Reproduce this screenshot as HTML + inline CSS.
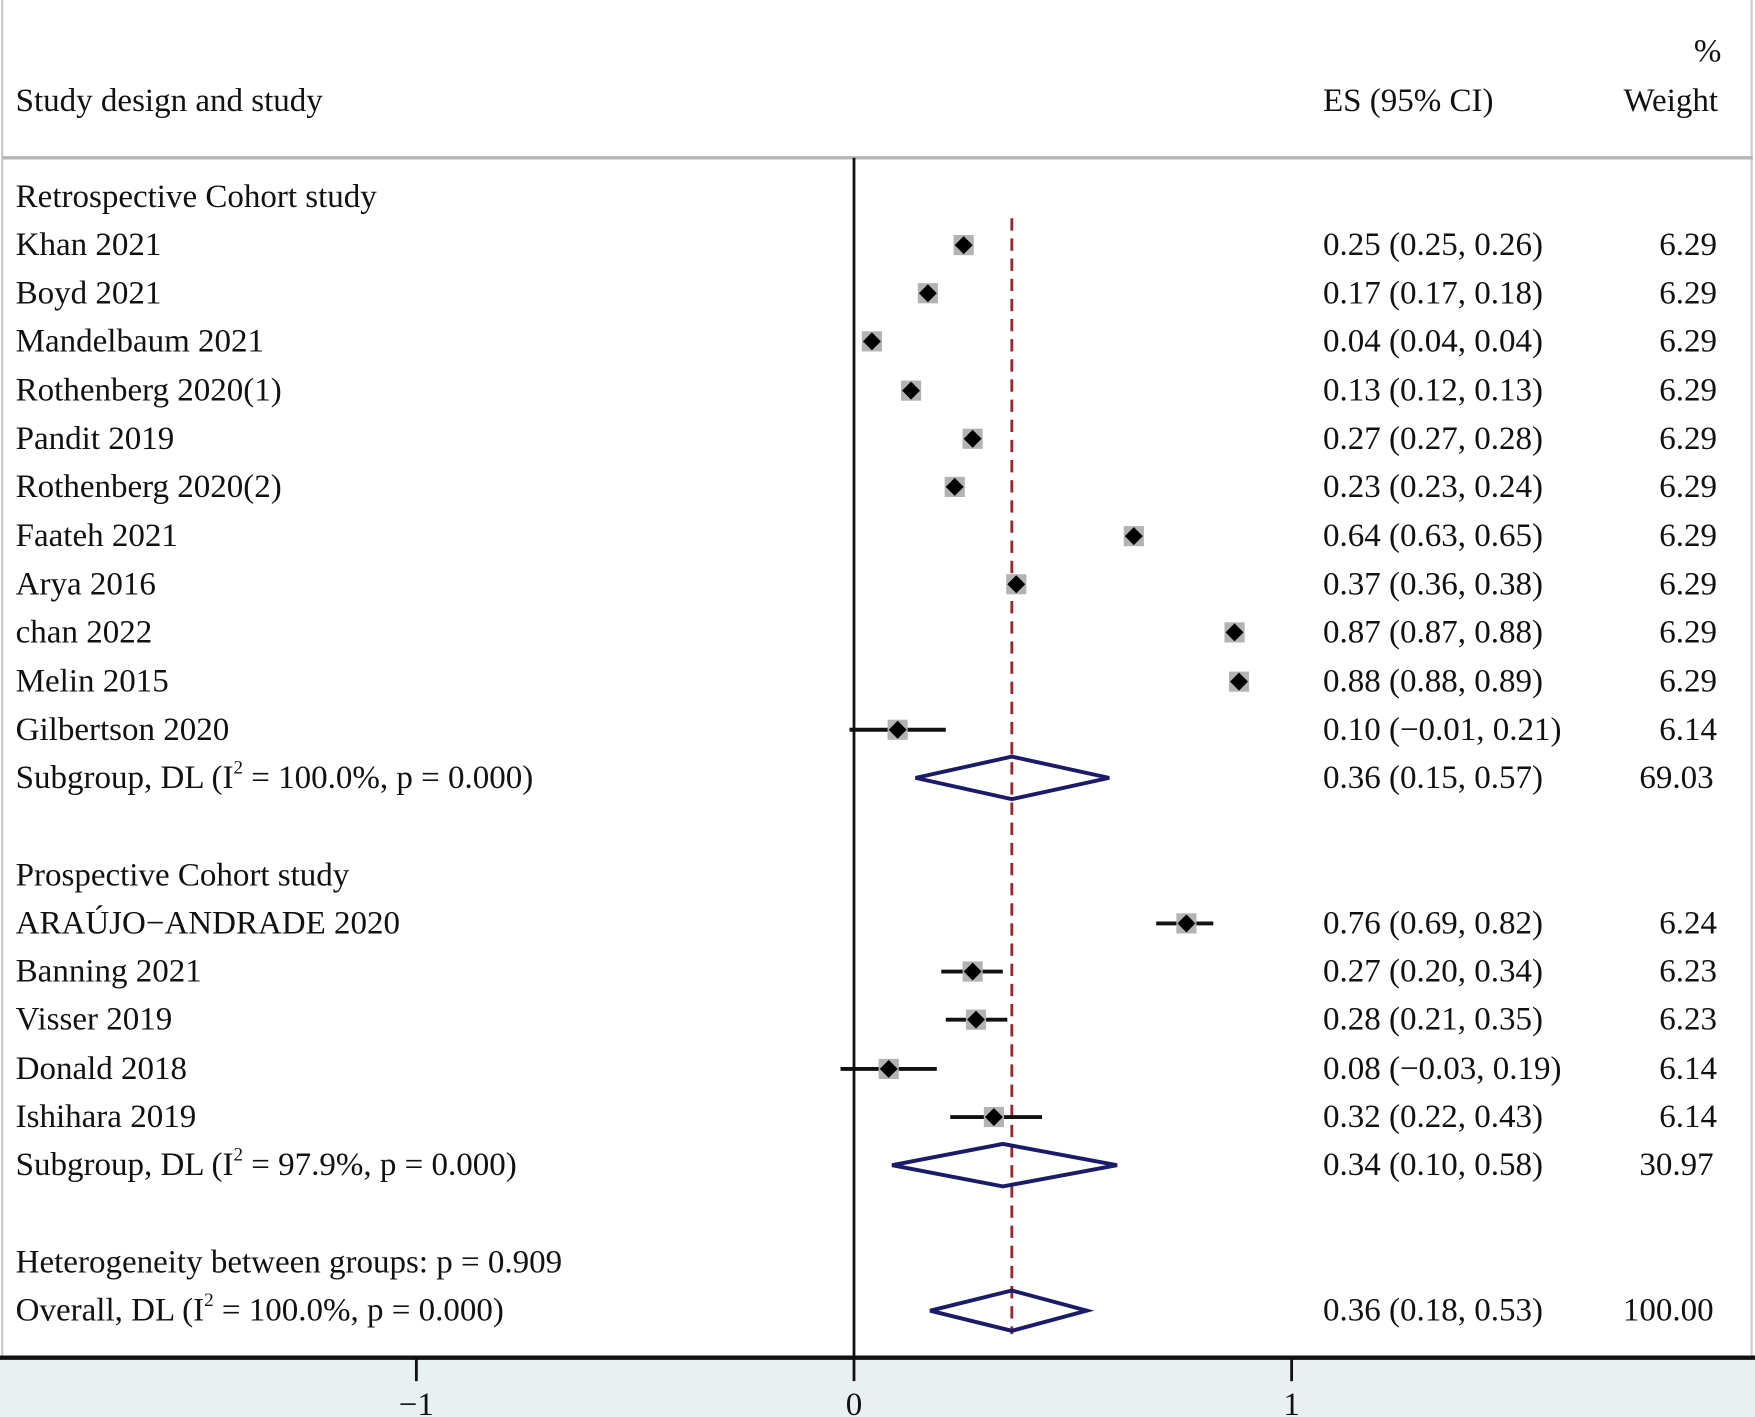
<!DOCTYPE html>
<html><head><meta charset="utf-8"><style>
html,body{margin:0;padding:0;background:#fff;}
svg{display:block;}
text{font-family:"Liberation Serif",serif;font-size:29.5px;fill:#111;}
</style></head><body>
<svg width="1755" height="1417" viewBox="0 0 1568 1266" preserveAspectRatio="none" xmlns="http://www.w3.org/2000/svg">
<rect x="0" y="0" width="1568" height="1266" fill="#fff"/>
<rect x="0" y="1213" width="1568" height="53" fill="#e9f0f2"/>
<line x1="2" y1="0" x2="2" y2="1213" stroke="#ccc" stroke-width="2"/>
<line x1="1565" y1="0" x2="1565" y2="1213" stroke="#ccc" stroke-width="2"/>
<line x1="2" y1="141" x2="1566" y2="141" stroke="#b5b5b5" stroke-width="3"/>
<line x1="0" y1="1213" x2="1568" y2="1213" stroke="#111" stroke-width="4"/>
<line x1="763" y1="141" x2="763" y2="1234" stroke="#111" stroke-width="2.5"/>
<line x1="372" y1="1213" x2="372" y2="1234" stroke="#111" stroke-width="2.5"/>
<line x1="1154" y1="1213" x2="1154" y2="1234" stroke="#111" stroke-width="2.5"/>
<text x="372" y="1264" text-anchor="middle">−1</text>
<text x="763" y="1264" text-anchor="middle">0</text>
<text x="1154" y="1264" text-anchor="middle">1</text>

<text x="1538" y="55" text-anchor="end">%</text>
<text x="14" y="99">Study design and study</text>
<text x="1182" y="99">ES (95% CI)</text>
<text x="1535" y="99" text-anchor="end">Weight</text>

<line x1="904" y1="195" x2="904" y2="1192" stroke="#a0232a" stroke-width="2.5" stroke-dasharray="11,7"/>

<g stroke="#111" stroke-width="3.5">
<line x1="759" y1="652" x2="845" y2="652"/>
<line x1="1033" y1="825" x2="1084" y2="825"/>
<line x1="841" y1="868" x2="896" y2="868"/>
<line x1="845" y1="911" x2="900" y2="911"/>
<line x1="751" y1="955" x2="837" y2="955"/>
<line x1="849" y1="998" x2="931" y2="998"/>
</g>
<g fill="#b3b3b3">
<rect x="852" y="210" width="18" height="18"/>
<rect x="820" y="253" width="18" height="18"/>
<rect x="770" y="296" width="18" height="18"/>
<rect x="805" y="340" width="18" height="18"/>
<rect x="860" y="383" width="18" height="18"/>
<rect x="844" y="426" width="18" height="18"/>
<rect x="1004" y="470" width="18" height="18"/>
<rect x="899" y="513" width="18" height="18"/>
<rect x="1094" y="556" width="18" height="18"/>
<rect x="1098" y="600" width="18" height="18"/>
<rect x="793" y="643" width="18" height="18"/>
<rect x="1051" y="816" width="18" height="18"/>
<rect x="860" y="859" width="18" height="18"/>
<rect x="863" y="902" width="18" height="18"/>
<rect x="785" y="946" width="18" height="18"/>
<rect x="879" y="989" width="18" height="18"/>
</g>
<g fill="#000">
<polygon points="861,211 869,219 861,227 853,219"/>
<polygon points="829,254 837,262 829,270 821,262"/>
<polygon points="779,297 787,305 779,313 771,305"/>
<polygon points="814,341 822,349 814,357 806,349"/>
<polygon points="869,384 877,392 869,400 861,392"/>
<polygon points="853,427 861,435 853,443 845,435"/>
<polygon points="1013,471 1021,479 1013,487 1005,479"/>
<polygon points="908,514 916,522 908,530 900,522"/>
<polygon points="1103,557 1111,565 1103,573 1095,565"/>
<polygon points="1107,601 1115,609 1107,617 1099,609"/>
<polygon points="802,644 810,652 802,660 794,652"/>
<polygon points="1060,817 1068,825 1060,833 1052,825"/>
<polygon points="869,860 877,868 869,876 861,868"/>
<polygon points="872,903 880,911 872,919 864,911"/>
<polygon points="794,947 802,955 794,963 786,955"/>
<polygon points="888,990 896,998 888,1006 880,998"/>
</g>
<g fill="none" stroke="#1b1b6b" stroke-width="3.5">
<polygon points="818,695 904,676 991,695 904,714"/>
<polygon points="797,1041 896,1022 998,1041 896,1060"/>
<polygon points="831,1171 904,1153 971,1171 904,1189"/>
</g>

<g>
<text x="14" y="185">Retrospective Cohort study</text>
<text x="14" y="228">Khan 2021</text>
<text x="14" y="271">Boyd 2021</text>
<text x="14" y="314">Mandelbaum 2021</text>
<text x="14" y="358">Rothenberg 2020(1)</text>
<text x="14" y="401">Pandit 2019</text>
<text x="14" y="444">Rothenberg 2020(2)</text>
<text x="14" y="488">Faateh 2021</text>
<text x="14" y="531">Arya 2016</text>
<text x="14" y="574">chan 2022</text>
<text x="14" y="618">Melin 2015</text>
<text x="14" y="661">Gilbertson 2020</text>
<text x="14" y="704">Subgroup, DL (I<tspan dy="-13" font-size="17">2</tspan><tspan dy="13"> = 100.0%, p = 0.000)</tspan></text>
<text x="14" y="791">Prospective Cohort study</text>
<text x="14" y="834">ARAÚJO−ANDRADE 2020</text>
<text x="14" y="877">Banning 2021</text>
<text x="14" y="920">Visser 2019</text>
<text x="14" y="964">Donald 2018</text>
<text x="14" y="1007">Ishihara 2019</text>
<text x="14" y="1050">Subgroup, DL (I<tspan dy="-13" font-size="17">2</tspan><tspan dy="13"> = 97.9%, p = 0.000)</tspan></text>
<text x="14" y="1137">Heterogeneity between groups: p = 0.909</text>
<text x="14" y="1180">Overall, DL (I<tspan dy="-13" font-size="17">2</tspan><tspan dy="13"> = 100.0%, p = 0.000)</tspan></text>
</g>
<g>
<text x="1182" y="228">0.25 (0.25, 0.26)</text>
<text x="1182" y="271">0.17 (0.17, 0.18)</text>
<text x="1182" y="314">0.04 (0.04, 0.04)</text>
<text x="1182" y="358">0.13 (0.12, 0.13)</text>
<text x="1182" y="401">0.27 (0.27, 0.28)</text>
<text x="1182" y="444">0.23 (0.23, 0.24)</text>
<text x="1182" y="488">0.64 (0.63, 0.65)</text>
<text x="1182" y="531">0.37 (0.36, 0.38)</text>
<text x="1182" y="574">0.87 (0.87, 0.88)</text>
<text x="1182" y="618">0.88 (0.88, 0.89)</text>
<text x="1182" y="661">0.10 (−0.01, 0.21)</text>
<text x="1182" y="704">0.36 (0.15, 0.57)</text>
<text x="1182" y="834">0.76 (0.69, 0.82)</text>
<text x="1182" y="877">0.27 (0.20, 0.34)</text>
<text x="1182" y="920">0.28 (0.21, 0.35)</text>
<text x="1182" y="964">0.08 (−0.03, 0.19)</text>
<text x="1182" y="1007">0.32 (0.22, 0.43)</text>
<text x="1182" y="1050">0.34 (0.10, 0.58)</text>
<text x="1182" y="1180">0.36 (0.18, 0.53)</text>
</g>
<g text-anchor="end">
<text x="1534" y="228">6.29</text>
<text x="1534" y="271">6.29</text>
<text x="1534" y="314">6.29</text>
<text x="1534" y="358">6.29</text>
<text x="1534" y="401">6.29</text>
<text x="1534" y="444">6.29</text>
<text x="1534" y="488">6.29</text>
<text x="1534" y="531">6.29</text>
<text x="1534" y="574">6.29</text>
<text x="1534" y="618">6.29</text>
<text x="1534" y="661">6.14</text>
<text x="1531" y="704">69.03</text>
<text x="1534" y="834">6.24</text>
<text x="1534" y="877">6.23</text>
<text x="1534" y="920">6.23</text>
<text x="1534" y="964">6.14</text>
<text x="1534" y="1007">6.14</text>
<text x="1531" y="1050">30.97</text>
<text x="1531" y="1180">100.00</text>
</g>
</svg>
</body></html>
